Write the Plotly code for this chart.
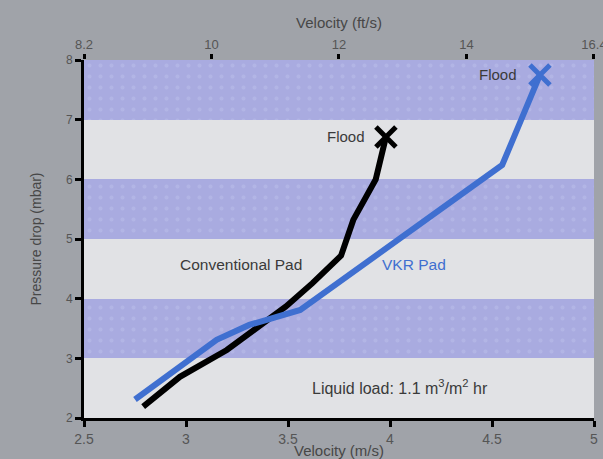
import plotly.graph_objects as go

# Pressure drop vs. gas velocity for two mist-eliminator pads
conv_velocity = [2.79, 2.97, 3.20, 3.49, 3.62, 3.76, 3.82, 3.93, 3.98]
conv_pressure = [2.19, 2.69, 3.14, 3.87, 4.26, 4.72, 5.32, 6.00, 6.71]

vkr_velocity = [2.75, 2.95, 3.15, 3.31, 3.56, 4.55, 4.735]
vkr_pressure = [2.31, 2.81, 3.31, 3.56, 3.81, 6.24, 7.75]

# Alternating shaded bands (lower, upper) in mbar
band_low = [3, 5, 7]
band_high = [4, 6, 8]

x_ticks = [2.5, 3, 3.5, 4, 4.5, 5]
x_tick_text = ["2.5", "3", "3.5", "4", "4.5", "5"]
y_ticks = [2, 3, 4, 5, 6, 7, 8]
top_ticks = [8, 10, 12, 14, 16]
top_tick_text = ["8.2", "10", "12", "14", "16.4"]

BG = "#a0a3a9"
BAND = "#a9abe0"
LIGHT = "#e1e2e5"
BLUE = "#3f6fd0"
TXT = "#3a3a3a"
TICKTXT = "#555555"
TITLE = "#474747"
FONT = "Liberation Sans, Arial, sans-serif"

fig = go.Figure()

# shaded bands drawn as horizontal bars with a faint speckle pattern
fig.add_trace(go.Bar(
    orientation="h",
    y=[(lo + hi) / 2 for lo, hi in zip(band_low, band_high)],
    x=[5 - 2.5] * len(band_low),
    base=2.5,
    width=[hi - lo for lo, hi in zip(band_low, band_high)],
    marker=dict(
        color=BAND,
        line=dict(width=0),
        pattern=dict(shape=".", fgcolor="#bcbfea", size=11, solidity=0.1, fillmode="overlay"),
    ),
    hoverinfo="skip",
    showlegend=False,
))

fig.add_trace(go.Scatter(
    x=conv_velocity, y=conv_pressure, mode="lines",
    line=dict(color="black", width=6),
    showlegend=False,
))
fig.add_trace(go.Scatter(
    x=vkr_velocity, y=vkr_pressure, mode="lines",
    line=dict(color=BLUE, width=6),
    showlegend=False,
))

# flood points
fig.add_trace(go.Scatter(
    x=[conv_velocity[-1]], y=[conv_pressure[-1]], mode="markers",
    marker=dict(symbol="x-thin", size=20, line=dict(color="black", width=5)),
    showlegend=False,
))
fig.add_trace(go.Scatter(
    x=[vkr_velocity[-1]], y=[vkr_pressure[-1]], mode="markers",
    marker=dict(symbol="x-thin", size=20, line=dict(color=BLUE, width=5)),
    showlegend=False,
))

# dummy trace to activate the top (ft/s) axis
fig.add_trace(go.Scatter(x=[8, 16], y=[2, 2], xaxis="x2", mode="markers",
                         marker=dict(opacity=0), hoverinfo="skip", showlegend=False))

annotations = [
    dict(x=conv_velocity[-1], y=conv_pressure[-1], xshift=-19, text="Flood", xanchor="right",
         font=dict(color=TXT, size=15)),
    dict(x=vkr_velocity[-1], y=vkr_pressure[-1], xshift=-21, text="Flood", xanchor="right",
         font=dict(color=TXT, size=15)),
    dict(x=3.27, y=4.57, text="Conventional Pad", xanchor="center",
         font=dict(color=TXT, size=15.5)),
    dict(x=4.12, y=4.57, text="VKR Pad", xanchor="center",
         font=dict(color=BLUE, size=15.5)),
    dict(x=4.05, y=2.52, text="Liquid load: 1.1 m<sup>3</sup>/m<sup>2</sup> hr", xanchor="center",
         font=dict(color=TXT, size=16)),
]
for a in annotations:
    a.update(showarrow=False, yanchor="middle", xref="x", yref="y")
    a["font"]["family"] = FONT

fig.update_layout(
    width=603, height=459,
    margin=dict(l=84, r=9, t=60, b=41),
    paper_bgcolor=BG,
    plot_bgcolor=LIGHT,
    font=dict(family=FONT, color=TICKTXT, size=12),
    bargap=0,
    annotations=annotations,
    xaxis=dict(
        range=[2.5, 5], tickvals=x_ticks, ticktext=x_tick_text, automargin=False,
        showgrid=False, zeroline=False,
        showline=True, linecolor="black", linewidth=3,
        ticks="outside", ticklen=6, tickwidth=3, tickcolor="black",
        tickfont=dict(size=14, color=TICKTXT),
        title=dict(text="Velocity (m/s)", font=dict(size=15, color=TITLE), standoff=0),
    ),
    xaxis2=dict(
        range=[8, 16.0005], overlaying="x", side="top", automargin=False,
        tickvals=top_ticks, ticktext=top_tick_text, ticklabeloverflow="allow",
        showgrid=False, zeroline=False, showline=False,
        ticks="outside", ticklen=5, tickwidth=3, tickcolor="black",
        tickfont=dict(size=13, color=TICKTXT),
        title=dict(text="Velocity (ft/s)", font=dict(size=15, color=TITLE), standoff=4),
    ),
    yaxis=dict(
        range=[2, 8], tickvals=y_ticks, automargin=False,
        showgrid=False, zeroline=False,
        showline=True, linecolor="black", linewidth=3,
        ticks="outside", ticklen=6, tickwidth=3, tickcolor="black",
        tickfont=dict(size=12, color=TICKTXT),
        title=dict(text="Pressure drop (mbar)", font=dict(size=14, color=TITLE), standoff=22),
    ),
)

fig.write_html("out.html")
